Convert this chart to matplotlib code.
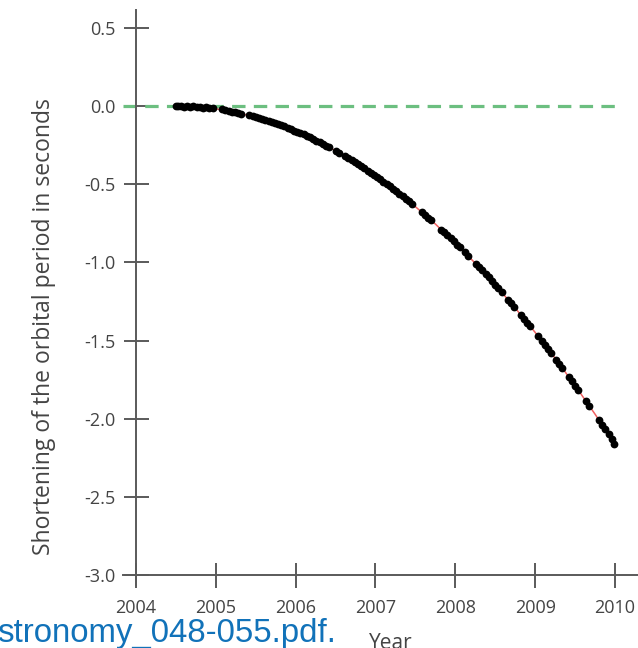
import matplotlib
matplotlib.use("Agg")
import matplotlib.pyplot as plt

plt.rcParams['font.family'] = ['Open Sans', 'DejaVu Sans']
plt.rcParams['axes.unicode_minus'] = False

# model curve (red)
model_year = [2004.50, 2004.75, 2005.00, 2005.25, 2005.50, 2005.75, 2006.00, 2006.25,
              2006.50, 2006.75, 2007.00, 2007.25, 2007.50, 2007.75, 2008.00, 2008.25,
              2008.50, 2008.75, 2009.00, 2009.25, 2009.50, 2009.75, 2010.00]
model_val = [0.000, -0.004, -0.018, -0.040, -0.072, -0.112, -0.161, -0.219,
             -0.286, -0.362, -0.447, -0.541, -0.644, -0.755, -0.876, -1.006,
             -1.144, -1.292, -1.448, -1.613, -1.788, -1.971, -2.163]

# observations (black)
obs_year = [2004.50, 2004.53, 2004.56, 2004.60, 2004.64, 2004.68, 2004.72, 2004.76,
            2004.80, 2004.84, 2004.88, 2004.92, 2004.96,
            2005.08, 2005.12, 2005.16, 2005.20, 2005.24, 2005.28, 2005.32,
            2005.42, 2005.46, 2005.50, 2005.54, 2005.58, 2005.62, 2005.66, 2005.70,
            2005.74, 2005.78, 2005.82, 2005.86, 2005.90, 2005.94, 2005.98, 2006.02,
            2006.06, 2006.10, 2006.14, 2006.18, 2006.22, 2006.26, 2006.30, 2006.34,
            2006.38, 2006.42,
            2006.50, 2006.54, 2006.62, 2006.66, 2006.70, 2006.74, 2006.78, 2006.82,
            2006.86, 2006.90, 2006.94, 2006.98, 2007.02, 2007.06, 2007.10, 2007.14,
            2007.18, 2007.22, 2007.26, 2007.30, 2007.34, 2007.38, 2007.42, 2007.46,
            2007.58, 2007.62, 2007.66, 2007.70, 2007.82, 2007.86, 2007.90, 2007.94,
            2007.98, 2008.02, 2008.06, 2008.12, 2008.16, 2008.26, 2008.30, 2008.34,
            2008.38, 2008.42, 2008.46, 2008.50, 2008.54, 2008.58, 2008.66, 2008.70,
            2008.74, 2008.82, 2008.86, 2008.90, 2008.94, 2009.04, 2009.08, 2009.12,
            2009.16, 2009.20, 2009.26, 2009.30, 2009.34, 2009.42, 2009.46, 2009.50,
            2009.54, 2009.64, 2009.68, 2009.80, 2009.84, 2009.88, 2009.92, 2009.96,
            2009.99]
obs_val = [0.000, -0.003, 0.002, -0.004, -0.001, -0.006, -0.003, -0.008,
           -0.005, -0.010, -0.008, -0.014, -0.012,
           -0.022, -0.027, -0.030, -0.036, -0.040, -0.043, -0.050,
           -0.060, -0.066, -0.073, -0.078, -0.084, -0.090, -0.096, -0.103,
           -0.110, -0.117, -0.124, -0.131, -0.139, -0.147, -0.157, -0.166,
           -0.174, -0.182, -0.192, -0.201, -0.212, -0.222, -0.231, -0.242,
           -0.253, -0.264,
           -0.288, -0.298, -0.322, -0.334, -0.346, -0.360, -0.372, -0.385,
           -0.399, -0.413, -0.428, -0.441, -0.455, -0.469, -0.484, -0.498,
           -0.513, -0.529, -0.545, -0.561, -0.576, -0.593, -0.609, -0.626,
           -0.680, -0.697, -0.715, -0.732, -0.790, -0.809, -0.828, -0.847,
           -0.866, -0.886, -0.905, -0.937, -0.957, -1.010, -1.031, -1.052,
           -1.074, -1.096, -1.118, -1.143, -1.167, -1.190, -1.238, -1.262,
           -1.286, -1.337, -1.362, -1.387, -1.410, -1.474, -1.500, -1.527,
           -1.553, -1.580, -1.622, -1.648, -1.676, -1.731, -1.760, -1.788,
           -1.816, -1.889, -1.917, -2.008, -2.038, -2.068, -2.099, -2.131,
           -2.160]

x_ticks = [2004, 2005, 2006, 2007, 2008, 2009, 2010]
y_ticks = [0.5, 0.0, -0.5, -1.0, -1.5, -2.0, -2.5, -3.0]

W, H = 638, 648
fig = plt.figure(figsize=(W / 100, H / 100), dpi=100)
ax = fig.add_axes([123 / W, 1 - 585 / H, 1 - 123 / W, (585 - 10) / H])

xlim = (2004 - 13 / 79.83, 2004 + (638 - 136) / 79.83)
ylim = (-3.0 - 10 / 156.3, 0.0 + 96 / 156.3)
ax.set_xlim(*xlim)
ax.set_ylim(*ylim)

axis_col = '#5a5a5a'
for s in ['top', 'right']:
    ax.spines[s].set_visible(False)
ax.spines['left'].set_position(('data', 2004))
ax.spines['bottom'].set_position(('data', -3.0))
for s in ['left', 'bottom']:
    ax.spines[s].set_color(axis_col)
    ax.spines[s].set_linewidth(1.4)

ax.set_xticks(x_ticks)
ax.set_yticks(y_ticks)
ax.set_xticklabels([str(v) for v in x_ticks])
ax.set_yticklabels(['%.1f' % v for v in y_ticks])
ax.tick_params(axis='both', direction='inout', length=18, width=1.4, color=axis_col,
               labelcolor='#444444', labelsize=13)
ax.tick_params(axis='y', pad=6)
ax.tick_params(axis='x', pad=8.5)

# zero reference line
ax.plot([xlim[0], 2010], [0, 0], color='#6cbf80', lw=2.3, dashes=(4.2, 2.6),
        solid_capstyle='butt', dash_capstyle='butt', zorder=2, clip_on=False)

ax.plot(model_year, model_val, color='#f06060', lw=1.1, zorder=3)
ax.plot(obs_year, obs_val, 'o', color='black', ms=5.6, mew=0, zorder=4)

fig.text(44 / W, 1 - 327 / H, 'Shortening of the orbital period in seconds',
         rotation=90, ha='center', va='center', fontsize=16.5, color='#444444')
fig.text(391 / W, 1 - 633 / H, 'Year', ha='center', va='top', fontsize=15,
         color='#444444')
fig.text(-3 / W, 1 - 642 / H, 'stronomy_048-055.pdf.', ha='left', va='baseline',
         fontsize=23.8, color='#1172b9', family=['Liberation Sans', 'DejaVu Sans'])

fig.savefig('out.png', dpi=100)
